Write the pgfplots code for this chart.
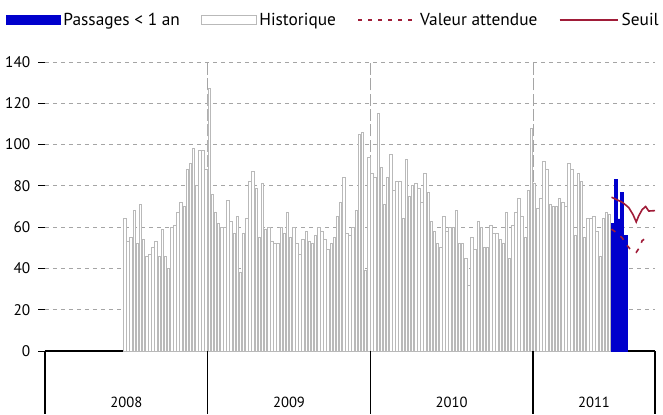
\documentclass[border=0pt]{standalone}
\usepackage{fontspec}
\setmainfont{PT Sans}
\usepackage{pgfplots}
\pgfplotsset{compat=1.18}
\usetikzlibrary{calc}

\definecolor{barblue}{RGB}{0,0,204}
\definecolor{seuilred}{RGB}{160,28,56}
\definecolor{histgray}{RGB}{185,185,185}
\definecolor{gridgray}{RGB}{165,165,165}

\begin{document}
\begin{tikzpicture}
\begin{axis}[
    scale only axis, width=457.5pt, height=216.75pt,
    xmin=0, xmax=195, ymin=0, ymax=140,
    axis x line*=bottom, axis y line*=left,
    x axis line style={black, line width=0.8pt},
    y axis line style={draw=none},
    tick align=outside, major tick length=5pt,
    ytick={0,20,...,140},
    ytick style={black, line width=0.6pt},
    ymajorgrids,
    y grid style={gridgray, dash pattern=on 3pt off 3pt, line width=0.6pt},
    yticklabel style={font=\fontsize{11.5}{13}\selectfont, xshift=-2.5pt},
    /pgf/number format/assume math mode=true,
    xtick={26,78,130,175.5}, xticklabels={2008,2009,2010,2011},
    xtick style={draw=none},
    xticklabel style={font=\fontsize{11}{12}\selectfont, yshift=-26pt},
    extra x ticks={52,104,156}, extra x tick labels={},
    extra x tick style={grid=major, major tick length=0pt},
    x grid style={gridgray, dash pattern=on 9pt off 2.5pt, line width=0.7pt},
    legend columns=4,
    legend style={at={(0.473,1)}, anchor=center, yshift=31.5pt, draw=none, fill=none,
        font=\fontsize{13}{15}\selectfont, inner sep=0pt,
        /tikz/every even column/.append style={column sep=14pt}},
]
\coordinate (ll) at (rel axis cs:0,0);
\coordinate (ur) at (rel axis cs:1,1);
\coordinate (b0) at (axis cs:0,0);
\coordinate (b1) at (axis cs:52,0);
\coordinate (b2) at (axis cs:104,0);
\coordinate (b3) at (axis cs:156,0);
\coordinate (b4) at (axis cs:195,0);

% last weeks
\addplot[ybar, bar width=1, bar shift=0pt, fill=barblue, draw=barblue,
    legend image code/.code={\draw[fill=barblue, draw=barblue] (0pt,-3.5pt) rectangle (41pt,3.5pt);}]
coordinates {(181.5,62) (182.5,83) (183.5,64) (184.5,77) (185.5,56)};
\addlegendentry{Passages < 1 an}

% weekly history 2008-2011
\addplot[ybar, bar width=0.8, bar shift=0pt, fill=white, draw=histgray, line width=0.6pt,
    legend image code/.code={\draw[fill=white, draw=histgray, line width=0.6pt] (0pt,-3.5pt) rectangle (41pt,3.5pt);}]
coordinates {
(25.5,64) (26.5,53) (27.5,55) (28.5,68) (29.5,52) (30.5,71) (31.5,54) (32.5,46) (33.5,47)
(34.5,50) (35.5,53) (36.5,46) (37.5,59) (38.5,46) (39.5,40) (40.5,60) (41.5,61) (42.5,67)
(43.5,72) (44.5,70) (45.5,88) (46.5,91) (47.5,98) (48.5,80) (49.5,97) (50.5,97) (51.5,88)
(52.5,127) (53.5,76) (54.5,67) (55.5,62) (56.5,60) (57.5,60) (58.5,73) (59.5,63) (60.5,57)
(61.5,65) (62.5,38) (63.5,57) (64.5,64) (65.5,82) (66.5,87) (67.5,79) (68.5,55) (69.5,81)
(70.5,59) (71.5,60) (72.5,53) (73.5,52) (74.5,52) (75.5,60) (76.5,57) (77.5,67) (78.5,55)
(79.5,60) (80.5,52) (81.5,47) (82.5,54) (83.5,58) (84.5,53) (85.5,52) (86.5,56) (87.5,60)
(88.5,58) (89.5,54) (90.5,49) (91.5,52) (92.5,55) (93.5,65) (94.5,72) (95.5,84) (96.5,57)
(97.5,56) (98.5,60) (99.5,68) (100.5,105) (101.5,106) (102.5,39) (103.5,94)
(104.5,86) (105.5,84) (106.5,115) (107.5,89) (108.5,71) (109.5,84) (110.5,95) (111.5,78)
(112.5,82) (113.5,82) (114.5,64) (115.5,93) (116.5,75) (117.5,80) (118.5,81) (119.5,79)
(120.5,72) (121.5,86) (122.5,77) (123.5,63) (124.5,58) (125.5,52) (126.5,50) (127.5,65)
(128.5,58) (129.5,60) (130.5,60) (131.5,68) (132.5,52) (133.5,52) (134.5,45) (135.5,32)
(136.5,55) (137.5,49) (138.5,63) (139.5,60) (140.5,50) (141.5,50) (142.5,61) (143.5,57)
(144.5,57) (145.5,54) (146.5,52) (147.5,67) (148.5,45) (149.5,61) (150.5,67) (151.5,74)
(152.5,65) (153.5,55) (154.5,78) (155.5,108)
(156.5,81) (157.5,69) (158.5,74) (159.5,92) (160.5,88) (161.5,71) (162.5,70) (163.5,70)
(164.5,74) (165.5,72) (166.5,70) (167.5,91) (168.5,88) (169.5,56) (170.5,86) (171.5,82)
(172.5,55) (173.5,64) (174.5,64) (175.5,65) (176.5,58) (177.5,46) (178.5,64) (179.5,67)
(180.5,66)};
\addlegendentry{Historique}

\addplot[seuilred, line width=1.2pt, dash pattern=on 3.5pt off 5pt,
    legend image code/.code={\draw[seuilred, line width=1.2pt, dash pattern=on 3pt off 4.5pt] (0pt,0pt) -- (44pt,0pt);}]
coordinates {(181.1,59) (183,57) (184.6,54.6) (185.6,52) (187,49.5) (189,47.8) (190,50) (190.9,53.5) (192.5,55)};
\addlegendentry{Valeur attendue}

\addplot[seuilred, line width=1.2pt,
    legend image code/.code={\draw[seuilred, line width=1.2pt] (0pt,0pt) -- (44pt,0pt);}]
coordinates {(181.1,74.5) (182.5,73.5) (184.6,72) (186.6,69.5) (188,66) (189,62.5) (189.8,65.5) (190.9,68.5) (192,70) (193,67.8) (195,68)};
\addlegendentry{Seuil}
\end{axis}
\foreach \c in {b0,b1,b2,b3,b4} \draw[black, line width=0.8pt] (\c) -- ++(0,-47.25pt);
\pgfresetboundingbox
\path ($(ll)+(-33.75pt,-47.25pt)$) rectangle ($(ur)+(6pt,46.5pt)$);
\end{tikzpicture}
\end{document}
